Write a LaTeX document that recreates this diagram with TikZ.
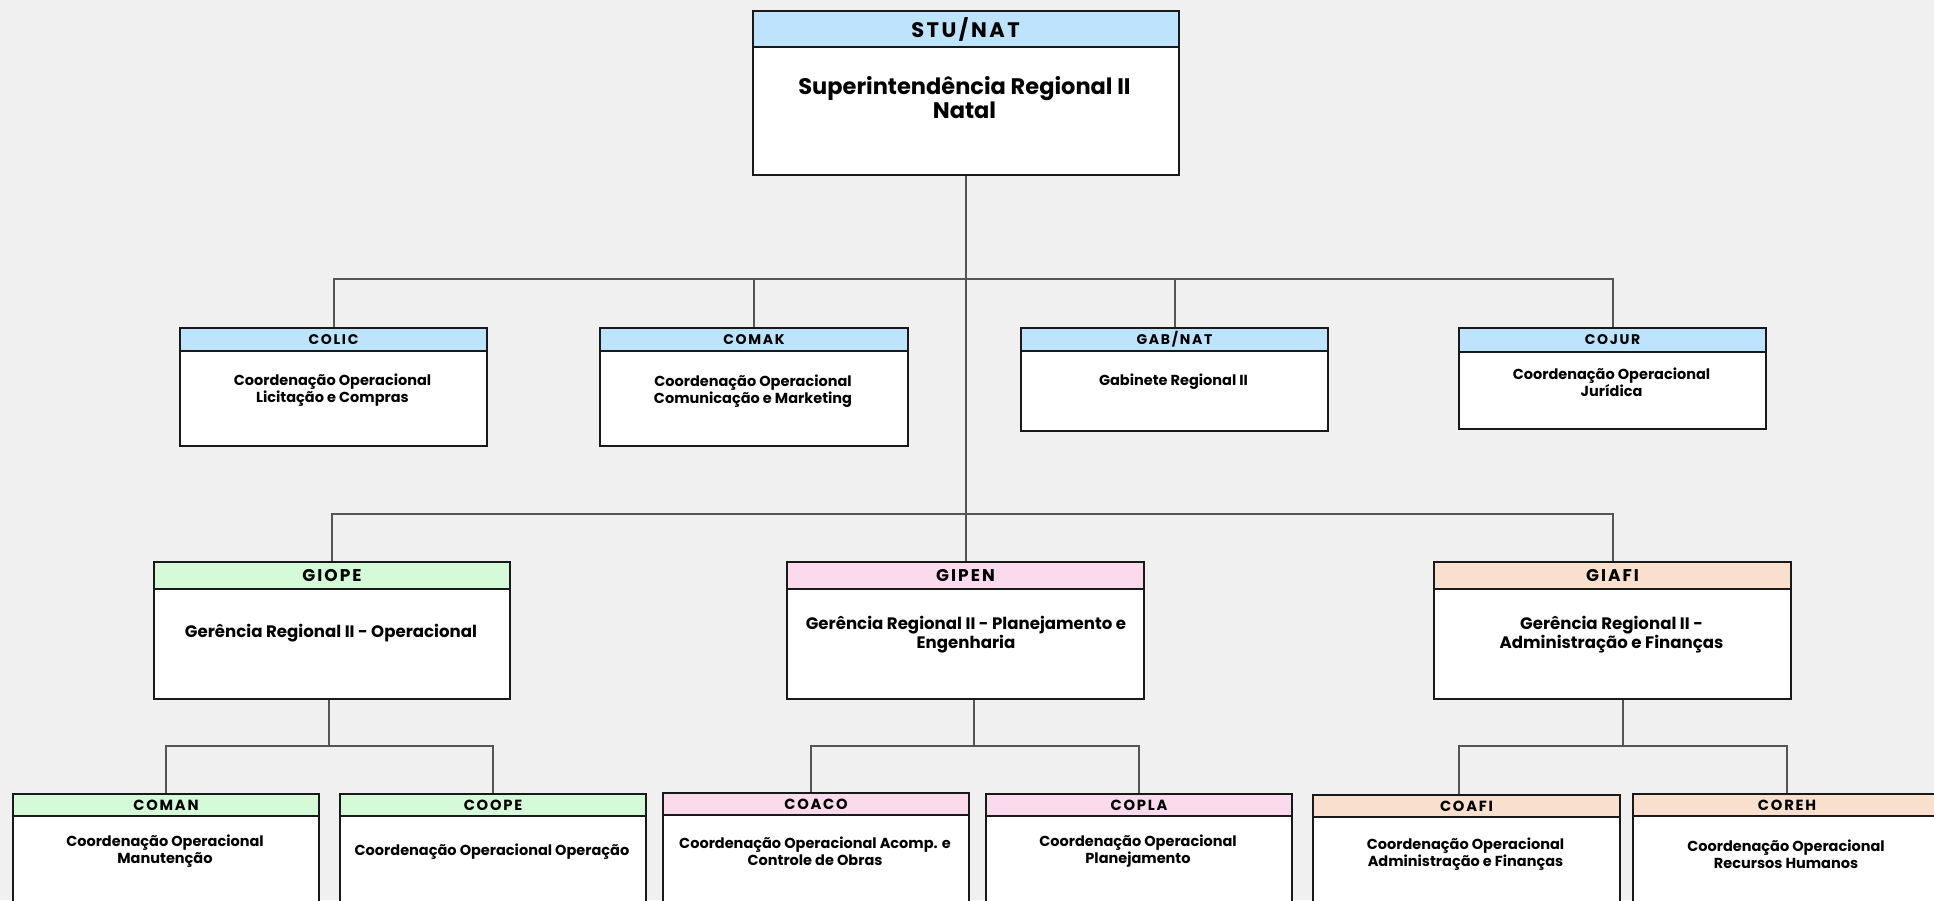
\documentclass[tikz,border=0pt]{standalone}
\usepackage{fontspec}
\setmainfont{Poppins}
\newfontfamily\spacedfont{Poppins}[LetterSpace=12]
\definecolor{cbg}{RGB}{240,240,240}
\definecolor{cblue}{RGB}{190,227,253}
\definecolor{cgreen}{RGB}{212,250,216}
\definecolor{cpink}{RGB}{251,218,238}
\definecolor{cpeach}{RGB}{249,223,205}
\definecolor{cline}{RGB}{85,85,85}
\newcommand\hfnt[1]{\spacedfont\bfseries\fontsize{#1}{#1}\selectfont}
\newcommand\bfnt[2]{\bfseries\fontsize{#1}{#2}\selectfont}
\tikzset{
  orgbox/.style={draw=black!90, line width=2pt, fill=white, anchor=north west, inner sep=0pt},
  orghdr/.style={draw=black!90, line width=2pt, anchor=north west, inner sep=0pt},
  orgtxt/.style={align=center, inner sep=0pt, text=black},
  conn/.style={draw=cline, line width=2pt}
}
\begin{document}
\begin{tikzpicture}[x=1pt,y=-1pt]
\useasboundingbox (0,0) rectangle (1934,900);
\clip (0,0) rectangle (1934,900);
\fill[cbg] (0,0) rectangle (1934,900);

% top
\node[orgbox, minimum width=426, minimum height=164] (stu) at (751.5,10) {};
\node[orghdr, fill=cblue, minimum width=426, minimum height=36, font=\hfnt{21}] (stu-h) at (stu.north west) {STU/NAT};
\node[orgtxt, font=\bfnt{22.5}{24}] (stu-t) at (964.5,98) {Superintendência Regional II\\Natal};

% row 2
\node[orgbox, minimum width=307, minimum height=118] (colic) at (179,327) {};
\node[orghdr, fill=cblue, minimum width=307, minimum height=23, font=\hfnt{14}] (colic-h) at (colic.north west) {COLIC};
\node[orgtxt, font=\bfnt{14.5}{17}] (colic-t) at (332.5,390) {Coordenação Operacional\\Licitação e Compras};

\node[orgbox, minimum width=308, minimum height=118] (comak) at (599,327) {};
\node[orghdr, fill=cblue, minimum width=308, minimum height=23, font=\hfnt{14}] (comak-h) at (comak.north west) {COMAK};
\node[orgtxt, font=\bfnt{14.5}{17}] (comak-t) at (753,391) {Coordenação Operacional\\Comunicação e Marketing};

\node[orgbox, minimum width=307, minimum height=103] (gab) at (1020,327) {};
\node[orghdr, fill=cblue, minimum width=307, minimum height=23, font=\hfnt{14}] (gab-h) at (gab.north west) {GAB/NAT};
\node[orgtxt, font=\bfnt{14.5}{17}] (gab-t) at (1173.5,381.5) {Gabinete Regional II};

\node[orgbox, minimum width=307, minimum height=101] (cojur) at (1458,327) {};
\node[orghdr, fill=cblue, minimum width=307, minimum height=24, font=\hfnt{14}] (cojur-h) at (cojur.north west) {COJUR};
\node[orgtxt, font=\bfnt{14.5}{17}] (cojur-t) at (1611.5,382.5) {Coordenação Operacional\\Jurídica};

% row 3
\node[orgbox, minimum width=356, minimum height=137] (giope) at (153,561) {};
\node[orghdr, fill=cgreen, minimum width=356, minimum height=27, font=\hfnt{17}] (giope-h) at (giope.north west) {GIOPE};
\node[orgtxt, font=\bfnt{16.6}{19}] (giope-t) at (331,633.5) {Gerência Regional II - Operacional};

\node[orgbox, minimum width=357, minimum height=137] (gipen) at (786,561) {};
\node[orghdr, fill=cpink, minimum width=357, minimum height=27, font=\hfnt{17}] (gipen-h) at (gipen.north west) {GIPEN};
\node[orgtxt, font=\bfnt{16.6}{19}] (gipen-t) at (966,635) {Gerência Regional II - Planejamento e\\Engenharia};

\node[orgbox, minimum width=357, minimum height=137] (giafi) at (1433,561) {};
\node[orghdr, fill=cpeach, minimum width=357, minimum height=27, font=\hfnt{17}] (giafi-h) at (giafi.north west) {GIAFI};
\node[orgtxt, font=\bfnt{16.6}{19}] (giafi-t) at (1611.5,635) {Gerência Regional II -\\Administração e Finanças};

% row 4
\node[orgbox, minimum width=306, minimum height=118] (coman) at (12,793) {};
\node[orghdr, fill=cgreen, minimum width=306, minimum height=22, font=\hfnt{14.7}] (coman-h) at (coman.north west) {COMAN};
\node[orgtxt, font=\bfnt{14.5}{17}] (coman-t) at (165,851.5) {Coordenação Operacional\\Manutenção};

\node[orgbox, minimum width=306, minimum height=118] (coope) at (339,793) {};
\node[orghdr, fill=cgreen, minimum width=306, minimum height=22, font=\hfnt{14.7}] (coope-h) at (coope.north west) {COOPE};
\node[orgtxt, font=\bfnt{14.5}{17}] (coope-t) at (492,852) {Coordenação Operacional Operação};

\node[orgbox, minimum width=306, minimum height=118] (coaco) at (662,792) {};
\node[orghdr, fill=cpink, minimum width=306, minimum height=22, font=\hfnt{14.7}] (coaco-h) at (coaco.north west) {COACO};
\node[orgtxt, font=\bfnt{14.5}{17}] (coaco-t) at (815,851.5) {Coordenação Operacional Acomp. e\\Controle de Obras};

\node[orgbox, minimum width=306, minimum height=118] (copla) at (985,793) {};
\node[orghdr, fill=cpink, minimum width=306, minimum height=22, font=\hfnt{14.7}] (copla-h) at (copla.north west) {COPLA};
\node[orgtxt, font=\bfnt{14.5}{17}] (copla-t) at (1138,851.5) {Coordenação Operacional\\Planejamento};

\node[orgbox, minimum width=307, minimum height=118] (coafi) at (1312,794) {};
\node[orghdr, fill=cpeach, minimum width=307, minimum height=22, font=\hfnt{14.7}] (coafi-h) at (coafi.north west) {COAFI};
\node[orgtxt, font=\bfnt{14.5}{17}] (coafi-t) at (1465.5,854) {Coordenação Operacional\\Administração e Finanças};

\node[orgbox, minimum width=308, minimum height=118] (coreh) at (1632,793) {};
\node[orghdr, fill=cpeach, minimum width=308, minimum height=22, font=\hfnt{14.7}] (coreh-h) at (coreh.north west) {COREH};
\node[orgtxt, font=\bfnt{14.5}{17}] (coreh-t) at (1786,854) {Coordenação Operacional\\Recursos Humanos};

% junctions
\coordinate (j1) at (964.5,279);
\coordinate (j2) at (964.5,514);
\coordinate (j3) at (0,746);

% connectors
\draw[conn] (stu.south) -- (gipen-h.north);
\draw[conn] (stu.south |- j1) -| (colic-h.north);
\draw[conn] (stu.south |- j1) -| (comak-h.north);
\draw[conn] (stu.south |- j1) -| (gab-h.north);
\draw[conn] (stu.south |- j1) -| (cojur-h.north);
\draw[conn] (stu.south |- j2) -| (giope-h.north);
\draw[conn] (stu.south |- j2) -| (giafi-h.north);

\draw[conn] ([xshift=-3pt]giope.south) |- (coman-h.north |- j3) -- (coman-h.north);
\draw[conn] ([xshift=-3pt]giope.south |- j3) -| (coope-h.north);
\draw[conn] ([xshift=8pt]gipen.south) |- ([xshift=-5pt]coaco-h.north |- j3) -- ([xshift=-5pt]coaco-h.north);
\draw[conn] ([xshift=8pt]gipen.south |- j3) -| (copla-h.north);
\draw[conn] ([xshift=10pt]giafi.south) |- ([xshift=-8pt]coafi-h.north |- j3) -- ([xshift=-8pt]coafi-h.north);
\draw[conn] ([xshift=10pt]giafi.south |- j3) -| (coreh-h.north);
\end{tikzpicture}
\end{document}
